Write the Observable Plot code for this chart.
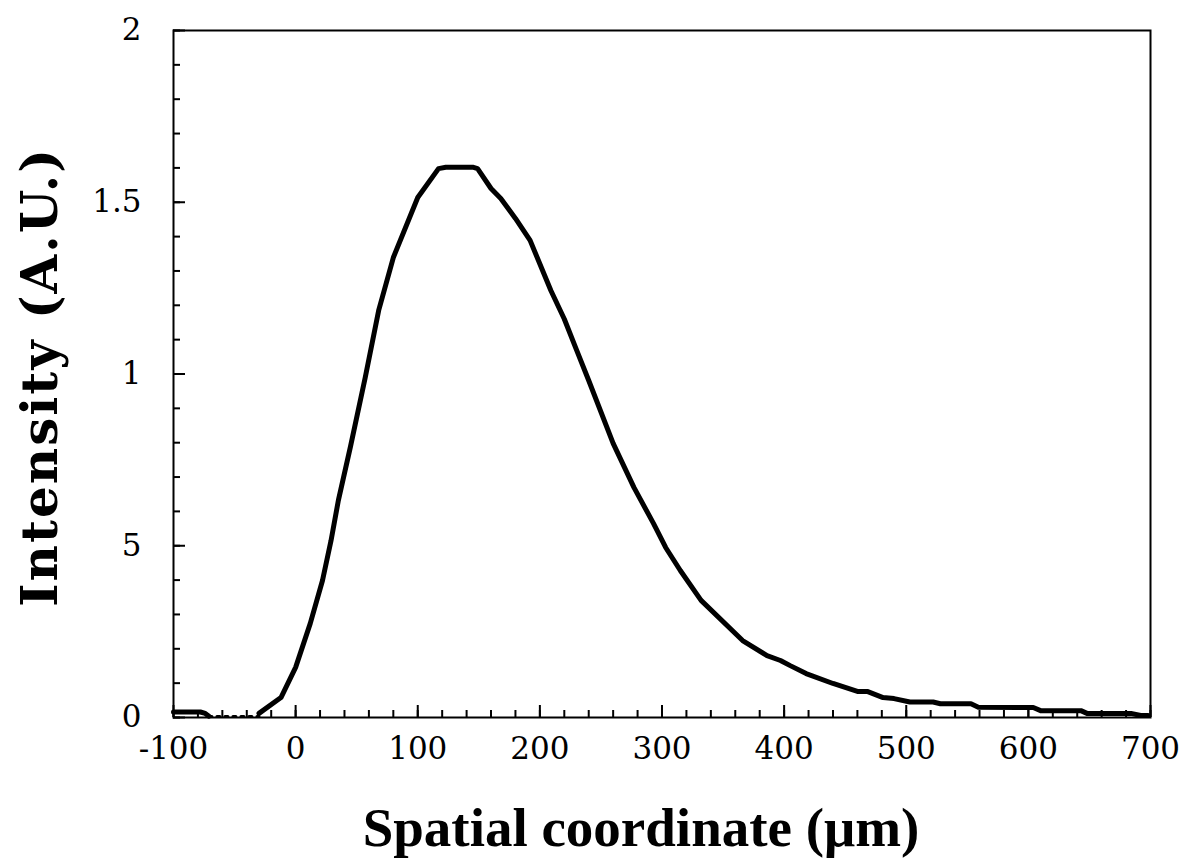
<!DOCTYPE html>
<html><head><meta charset="utf-8">
<script src="https://cdn.jsdelivr.net/npm/d3@7"></script>
<script src="https://cdn.jsdelivr.net/npm/@observablehq/plot@0.6"></script>
<style>body{margin:0;background:#fff} svg{display:block}</style>
</head><body><div id="chart"></div>
<script>
// Main intensity profile (µm, A.U.)
const curveX = [-30, -12, 0, 12, 22, 29, 35, 45, 57, 68, 80, 100, 117, 123, 145, 149, 160, 168, 180, 192, 209, 220, 230, 240, 260, 277, 293, 303, 315, 332, 366, 386, 397, 405, 418, 440, 460, 468, 481, 490, 503, 522, 528, 553, 559, 604, 610, 643, 648, 684, 692, 698];
const curveY = [0.012, 0.058, 0.146, 0.274, 0.399, 0.515, 0.632, 0.79, 0.99, 1.185, 1.339, 1.514, 1.598, 1.602, 1.602, 1.598, 1.54, 1.511, 1.453, 1.389, 1.243, 1.16, 1.07, 0.981, 0.798, 0.67, 0.565, 0.495, 0.428, 0.341, 0.224, 0.18, 0.166, 0.151, 0.128, 0.099, 0.076, 0.076, 0.058, 0.055, 0.045, 0.045, 0.04, 0.04, 0.03, 0.029, 0.02, 0.02, 0.012, 0.012, 0.006, 0.006];
// Left baseline segment
const leftX = [-100, -78, -74, -71];
const leftY = [0.016, 0.016, 0.012, 0.004];
// Near-zero dotted stretch
const dotX = [-71, -30];
const dotY = [0.003, 0.003];

const xTickValues = [-100, 0, 100, 200, 300, 400, 500, 600, 700];
const xTickLabels = ["-100", "0", "100", "200", "300", "400", "500", "600", "700"];
const yTickValues = [0, 0.5, 1, 1.5, 2];
const yTickLabels = ["0", "5", "1", "1.5", "2"];
const xMinorTicks = d3.range(-100, 701, 20);
const yMinorTicks = d3.range(0, 21).map(i => i / 10);
const xTitle = "Spatial coordinate (μm)";
const yTitle = "Intensity (A.U.)";

const curve = curveX.map((x, i) => ({x, y: curveY[i]}));
const left = leftX.map((x, i) => ({x, y: leftY[i]}));
const dots = dotX.map((x, i) => ({x, y: dotY[i]}));

const chart = Plot.plot({
  width: 1182, height: 863,
  marginLeft: 173, marginRight: 32, marginTop: 30, marginBottom: 146,
  x: {domain: [-100, 700]},
  y: {domain: [0, 2]},
  style: {background: "white", color: "black", overflow: "visible"},
  marks: [
    Plot.axisX(xMinorTicks, {anchor: "bottom", tickSize: 7, dy: -7, tickFormat: () => "", strokeWidth: 2, label: null}),
    Plot.axisX(xTickValues, {anchor: "bottom", tickSize: 12, dy: -12, tickFormat: () => "", strokeWidth: 2, label: null}),
    Plot.axisX(xTickValues, {anchor: "bottom", tickSize: 0, tickPadding: 19, tickFormat: d => xTickLabels[xTickValues.indexOf(d)], fontSize: 31, fontFamily: "DejaVu Serif", label: null}),
    Plot.axisY(yMinorTicks, {anchor: "left", tickSize: 7, dx: 7, tickFormat: () => "", strokeWidth: 2, label: null}),
    Plot.axisY(yTickValues, {anchor: "left", tickSize: 12, dx: 12, tickFormat: () => "", strokeWidth: 2, label: null}),
    Plot.axisY(yTickValues, {anchor: "left", tickSize: 0, tickPadding: 32, tickFormat: d => yTickLabels[yTickValues.indexOf(d)], fontSize: 31, fontFamily: "DejaVu Serif", label: null}),
    Plot.frame({stroke: "black", strokeWidth: 2}),
    Plot.line(left, {x: "x", y: "y", stroke: "black", strokeWidth: 5, strokeLinejoin: "round"}),
    Plot.line(dots, {x: "x", y: "y", stroke: "black", strokeWidth: 3, strokeDasharray: "3,5"}),
    Plot.line(curve, {x: "x", y: "y", stroke: "black", strokeWidth: 5, strokeLinejoin: "round"}),
    Plot.text([yTitle], {frameAnchor: "left", rotate: -90, dx: -133, dy: 3, fontSize: 50, fontWeight: "bold", fontFamily: "DejaVu Serif", textAnchor: "middle", fill: "black"}),
    Plot.text([xTitle], {frameAnchor: "bottom", dx: -21, dy: 128, lineAnchor: "bottom", fontSize: 55, fontWeight: "bold", fontFamily: "Liberation Serif", textAnchor: "middle", fill: "black"})
  ]
});
d3.select(chart).selectAll("text").filter(function() { return this.textContent === yTitle; }).attr("letter-spacing", "2px");
document.getElementById("chart").appendChild(chart);
</script>
</body></html>
